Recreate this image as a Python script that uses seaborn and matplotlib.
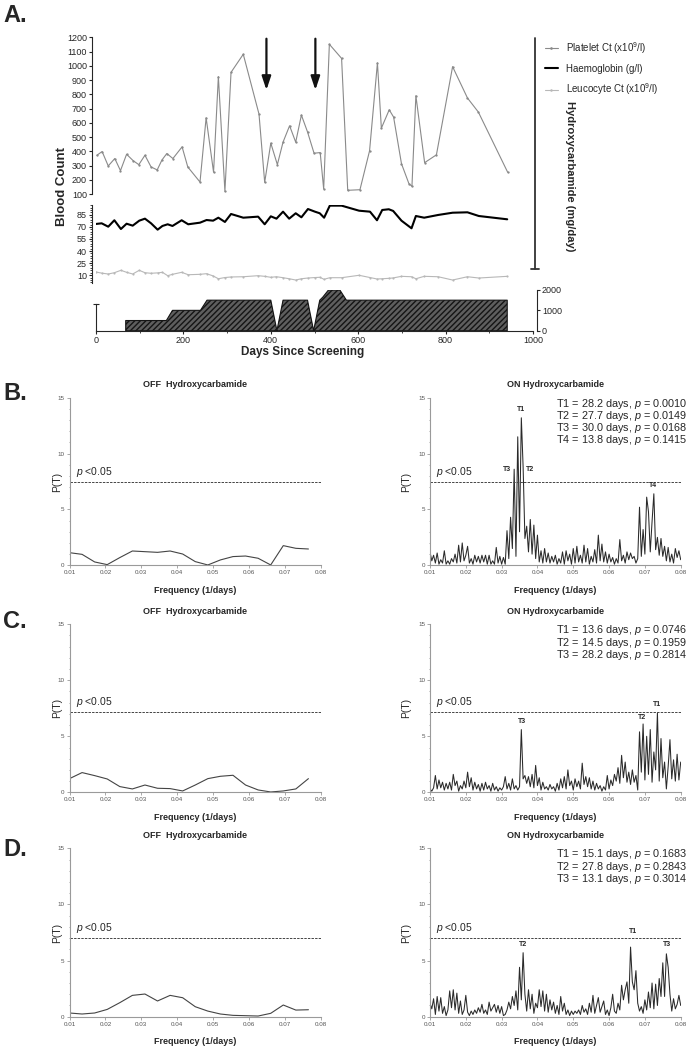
import numpy as np
import matplotlib
matplotlib.use("Agg")
import matplotlib.pyplot as plt
import matplotlib.ticker as mticker
from matplotlib.lines import Line2D
import seaborn as sns

# ---------------- panel A data ----------------
pl_days = [2, 14, 28, 43, 56, 70, 85, 98, 112, 126, 140, 151, 162, 176, 197, 210, 238, 252,
           269, 280, 295, 309, 337, 373, 386, 400, 415, 428, 443, 457, 470, 484, 499, 513,
           521, 534, 562, 576, 604, 626, 644, 653, 671, 681, 699, 716, 723, 732, 752, 779,
           816, 850, 875, 942]
pl_vals = [372, 398, 297, 349, 264, 379, 334, 306, 372, 290, 269, 339, 384, 349, 431, 290,
           184, 635, 253, 924, 119, 954, 1081, 661, 182, 457, 306, 464, 579, 464, 654, 536,
           386, 391, 135, 1151, 1052, 126, 130, 403, 1020, 562, 691, 640, 313, 173, 154,
           790, 320, 375, 994, 774, 675, 253]

hb_days = [0, 13, 28, 42, 57, 70, 84, 99, 112, 126, 141, 152, 164, 175, 196, 211, 238, 253,
           268, 280, 295, 309, 337, 371, 386, 400, 413, 428, 442, 457, 470, 485, 501, 512,
           522, 535, 562, 602, 627, 643, 655, 670, 680, 699, 722, 732, 751, 783, 816, 850,
           876, 941]
hb_vals = [73.7, 74.5, 70.3, 78.3, 67.4, 74.0, 71.6, 77.8, 80.3, 74.5, 66.6, 71.2, 73.3,
           71.2, 78.3, 73.3, 75.3, 78.6, 77.8, 81.5, 76.2, 86.1, 81.5, 82.8, 73.3, 83.2,
           80.3, 89.0, 80.3, 87.0, 82.0, 92.3, 89.0, 87.0, 81.5, 96.5, 96.5, 90.2, 89.0,
           78.3, 91.1, 92.0, 89.9, 77.8, 68.3, 83.6, 81.5, 84.9, 87.7, 88.2, 83.6, 79.5]
leu_vals = [13.9, 12.5, 11.4, 13.0, 16.0, 13.5, 11.4, 16.0, 13.0, 12.3, 12.8, 13.5, 9.3,
            11.0, 13.5, 10.5, 11.0, 11.8, 9.0, 5.5, 7.0, 7.7, 8.0, 9.3, 8.5, 7.3, 8.0, 6.8,
            5.5, 3.9, 5.5, 6.4, 7.0, 7.3, 4.8, 6.8, 6.8, 9.8, 7.0, 5.2, 5.5, 6.0, 6.5, 8.5,
            8.0, 5.5, 8.5, 8.0, 3.9, 8.0, 6.4, 8.5]

dose_days = [68, 68, 161, 175, 239, 254, 400, 414, 428, 484, 498, 512, 519, 532, 558, 573, 941, 941]
dose_mg = [0, 500, 500, 1000, 1000, 1500, 1500, 0, 1500, 1500, 0, 1500, 1650, 2000, 2000, 1500, 1500, 0]

arrow_days = [390, 502]

# ---------------- periodogram data ----------------
off_freq = [0.01 + 0.0035 * k for k in range(20)]
on_freq = np.round(np.arange(0.01, 0.08001, 0.0005), 4)

off_B = [1.13, 0.98, 0.30, 0.06, 0.69, 1.28, 1.22, 1.16, 1.28, 1.01, 0.33, 0.03, 0.48, 0.78,
         0.83, 0.63, 0.03, 1.76, 1.52, 1.46]
off_C = [1.22, 1.76, 1.49, 1.19, 0.51, 0.30, 0.65, 0.36, 0.33, 0.12, 0.65, 1.22, 1.43, 1.52,
         0.65, 0.21, 0.03, 0.12, 0.30, 1.22]
off_D = [0.33, 0.24, 0.33, 0.65, 1.25, 1.90, 2.02, 1.40, 1.90, 1.69, 0.89, 0.50, 0.24, 0.12,
         0.09, 0.06, 0.30, 1.04, 0.59, 0.62]

on_B = [1.2, 0.4, 0.9, 0.2, 1.1, 0.1, 0.5, 0.2, 1.3, 0.1,
        0.4, 0.1, 0.6, 0.3, 1.0, 0.2, 1.8, 0.3, 2.0, 0.4,
        0.9, 1.7, 0.2, 0.6, 0.1, 0.9, 0.3, 0.8, 0.2, 0.9,
        0.3, 0.9, 0.1, 0.9, 0.1, 0.4, 0.1, 1.6, 0.2, 0.8,
        0.1, 0.7, 0.1, 3.1, 0.6, 4.3, 1.5, 8.6, 0.8, 11.5,
        3.0, 13.2, 8.8, 2.4, 3.5, 1.2, 4.1, 1.0, 3.6, 0.6,
        2.7, 0.3, 1.3, 0.2, 1.5, 0.3, 1.1, 0.2, 0.8, 0.3,
        0.9, 0.1, 0.6, 0.2, 1.2, 0.1, 1.3, 0.4, 1.0, 0.1,
        1.5, 0.2, 1.7, 0.3, 0.9, 0.2, 1.8, 0.3, 1.5, 0.1,
        0.8, 0.3, 1.4, 0.2, 2.7, 0.4, 1.9, 0.3, 1.2, 0.2,
        1.0, 0.3, 0.7, 0.1, 0.6, 0.2, 2.3, 0.4, 0.9, 0.2,
        1.2, 0.5, 1.1, 0.6, 0.8, 0.2, 0.6, 5.2, 0.8, 3.2,
        1.0, 6.1, 4.8, 1.2, 3.9, 6.4, 1.4, 2.5, 0.9, 2.4,
        0.8, 1.7, 0.4, 1.6, 0.3, 1.0, 0.2, 1.5, 0.7, 1.3,
        0.5]
on_C = [0.3, 0.1, 0.4, 1.5, 0.3, 1.1, 0.4, 0.9, 0.2, 0.8,
        0.3, 0.9, 0.2, 1.6, 0.6, 1.0, 0.1, 0.6, 0.3, 1.0,
        0.4, 1.8, 0.5, 1.3, 0.2, 0.9, 0.3, 0.7, 0.1, 0.8,
        0.2, 0.9, 0.3, 0.6, 0.1, 0.8, 0.2, 0.5, 0.1, 0.4,
        0.2, 0.5, 1.4, 0.3, 0.8, 0.2, 1.2, 0.3, 0.6, 0.2,
        0.5, 5.6, 1.2, 1.5, 0.8, 1.4, 0.5, 1.6, 0.4, 2.4,
        0.6, 1.3, 0.2, 0.9, 0.3, 0.5, 0.2, 0.7, 0.3, 0.5,
        0.1, 0.8, 0.2, 1.2, 0.4, 1.4, 0.3, 2.0, 0.6, 1.0,
        0.2, 1.2, 0.5, 1.0, 0.3, 2.6, 0.7, 1.4, 0.5, 1.3,
        0.3, 1.0, 0.2, 0.8, 0.3, 0.6, 0.1, 0.5, 0.2, 1.5,
        0.3, 1.1, 0.6, 1.6, 1.0, 2.2, 0.8, 3.3, 1.3, 2.7,
        0.9, 1.8, 0.7, 2.0, 0.9, 1.5, 0.2, 5.4, 1.8, 6.1,
        1.1, 5.0, 1.6, 5.6, 0.9, 3.6, 2.0, 7.1, 1.0, 4.8,
        1.3, 2.7, 0.3, 2.3, 4.7, 1.2, 2.9, 1.0, 3.4, 1.1,
        2.7]
on_D = [1.2, 0.7, 1.6, 0.2, 1.8, 0.5, 1.7, 0.3, 0.9, 0.1,
        0.6, 2.3, 0.8, 2.4, 0.6, 2.1, 0.3, 1.4, 0.2, 0.6,
        1.9, 0.4, 0.1, 0.5, 0.2, 0.6, 0.3, 0.8, 0.4, 1.1,
        0.3, 0.6, 0.2, 1.3, 0.5, 0.8, 1.1, 0.4, 1.0, 0.3,
        0.9, 0.1, 0.2, 0.6, 1.3, 0.7, 1.8, 1.0, 2.3, 0.6,
        4.4, 1.5, 5.7, 2.0, 0.5, 2.4, 0.7, 2.0, 0.3, 1.2,
        0.8, 2.4, 0.9, 2.3, 0.5, 2.0, 0.4, 1.5, 0.6, 1.3,
        0.3, 1.0, 0.2, 1.8, 0.5, 1.2, 0.2, 0.6, 0.1, 0.5,
        0.2, 0.5, 0.3, 0.6, 0.2, 1.0, 0.4, 0.7, 0.2, 1.2,
        0.4, 1.9, 0.3, 1.0, 1.7, 0.4, 0.9, 1.4, 0.2, 0.6,
        0.1, 0.8, 2.0, 0.5, 0.3, 1.2, 0.6, 2.8, 1.5, 2.4,
        3.1, 1.2, 6.2, 3.1, 2.4, 4.1, 1.2, 0.5, 0.9, 0.3,
        1.5, 0.6, 2.2, 0.8, 3.0, 0.7, 2.9, 1.0, 3.4, 1.8,
        4.8, 1.8, 5.6, 4.4, 2.0, 0.5, 1.6, 0.7, 1.1, 1.9,
        1.0]

thresholds = [7.5, 7.2, 7.0]

notes_B = ["T1 = 28.2 days, $p$ = 0.0010", "T2 = 27.7 days, $p$ = 0.0149",
           "T3 = 30.0 days, $p$ = 0.0168", "T4 = 13.8 days, $p$ = 0.1415"]
notes_C = ["T1 = 13.6 days, $p$ = 0.0746", "T2 = 14.5 days, $p$ = 0.1959",
           "T3 = 28.2 days, $p$ = 0.2814"]
notes_D = ["T1 = 15.1 days, $p$ = 0.1683", "T2 = 27.8 days, $p$ = 0.2843",
           "T3 = 13.1 days, $p$ = 0.3014"]

peaks_B = [("T3", 0.0316, 8.6), ("T1", 0.0353, 13.9), ("T2", 0.0378, 8.6), ("T4", 0.0723, 7.1)]
peaks_C = [("T3", 0.0356, 6.3), ("T2", 0.0693, 6.7), ("T1", 0.0733, 7.8)]
peaks_D = [("T2", 0.0360, 6.4), ("T1", 0.0666, 7.6), ("T3", 0.0762, 6.4)]

# ---------------- style ----------------
sns.set_style("ticks")
plt.rcParams["font.family"] = ["Liberation Sans", "DejaVu Sans"]
plt.rcParams["mathtext.fontset"] = "custom"
plt.rcParams["mathtext.rm"] = "Liberation Sans"
plt.rcParams["mathtext.it"] = "Liberation Sans:italic"
plt.rcParams["hatch.linewidth"] = 1.0

W, H = 688, 1050
fig = plt.figure(figsize=(W / 100, H / 100), dpi=100)


def px_axes(x0, y0, x1, y1):
    # pixel box (left, top, right, bottom) -> axes
    return fig.add_axes([x0 / W, 1 - y1 / H, (x1 - x0) / W, (y1 - y0) / H])


PL_C = "#8a8a8a"
LEU_C = "#b8b8b8"

# ---------- A: platelets ----------
ax_pl = px_axes(96, 37.3, 533, 194)
sns.lineplot(x=pl_days, y=pl_vals, ax=ax_pl, color=PL_C, lw=0.8, marker="o", ms=0.9,
             mec=PL_C, estimator=None)
ax_pl.set_xlim(0, 1000)
ax_pl.set_ylim(100, 1200)
ax_pl.set_yticks(range(100, 1201, 100))
ax_pl.set_xticks([])
for s in ["top", "right", "bottom"]:
    ax_pl.spines[s].set_visible(False)
ax_pl.spines["left"].set_position(("outward", 3))
ax_pl.tick_params(axis="y", labelsize=6.5, length=2.5, width=0.8, pad=1)
ax_pl.set_xlabel("")
ax_pl.set_ylabel("")
for d in arrow_days:
    ax_pl.annotate("", xy=(d, 830), xytext=(d, 1190),
                   arrowprops=dict(arrowstyle="-|>,head_length=0.9,head_width=0.3",
                                   color="#111111", lw=1.6, mutation_scale=9,
                                   shrinkA=0, shrinkB=0))

# ---------- A: haemoglobin / leucocytes ----------
ax_hb = px_axes(96, 205, 533, 283)
sns.lineplot(x=hb_days, y=hb_vals, ax=ax_hb, color="black", lw=1.5, estimator=None)
sns.lineplot(x=hb_days, y=leu_vals, ax=ax_hb, color=LEU_C, lw=0.8, marker="o", ms=0.8,
             mec=LEU_C, estimator=None)
ax_hb.set_xlim(0, 1000)
ax_hb.set_ylim(0.2, 97.3)
ax_hb.set_yticks([10, 25, 40, 55, 70, 85])
ax_hb.yaxis.set_minor_locator(mticker.FixedLocator(np.arange(1, 98, 3)))
ax_hb.set_xticks([])
for s in ["top", "right", "bottom"]:
    ax_hb.spines[s].set_visible(False)
ax_hb.spines["left"].set_position(("outward", 3))
ax_hb.tick_params(axis="y", which="major", labelsize=6.5, length=2.5, width=0.8, pad=1)
ax_hb.tick_params(axis="y", which="minor", length=1.5, width=0.6)
ax_hb.set_xlabel("")
ax_hb.set_ylabel("")

# ---------- A: dose ----------
ax_d = px_axes(96, 290, 533, 330.7)
ax_d.fill_between(dose_days, dose_mg, 0, facecolor="#5e5e5e", edgecolor="#151515",
                  hatch="//////", lw=0.8)
ax_d.set_xlim(0, 1000)
ax_d.set_ylim(0, 2000)
ax_d.set_xticks(range(0, 1001, 200))
ax_d.xaxis.set_minor_locator(mticker.MultipleLocator(100))
ax_d.set_yticks([1300])
ax_d.set_yticklabels([])
ax_d.spines["left"].set_bounds(0, 1300)
ax_d.spines["top"].set_visible(False)
ax_d.spines["right"].set_visible(False)
ax_d.tick_params(axis="y", direction="inout", length=5, width=0.8)
ax_d.tick_params(axis="x", which="major", labelsize=6.5, length=2.5, width=0.8, pad=1.5)
ax_d.tick_params(axis="x", which="minor", length=1.5, width=0.6)
ax_r = ax_d.twinx()
ax_r.set_ylim(0, 2000)
ax_r.set_yticks([0, 1000, 2000])
for s in ["top", "left", "bottom"]:
    ax_r.spines[s].set_visible(False)
ax_r.spines["right"].set_position(("outward", 3))
ax_r.tick_params(axis="y", labelsize=6.5, length=2.5, width=0.8, pad=1)

fig.text(303 / W, 1 - 352.5 / H, "Days Since Screening", ha="center", va="center",
         fontsize=8.5, fontweight="bold")
fig.text(62 / W, 1 - 186 / H, "Blood Count", rotation=90, ha="center", va="center",
         fontsize=9.5, fontweight="bold")
fig.text(570 / W, 1 - 176 / H, "Hydroxycarbamide (mg/day)", rotation=270, ha="center",
         va="center", fontsize=8, fontweight="bold")
fig.add_artist(Line2D([535 / W, 535 / W], [1 - 37.7 / H, 1 - 269 / H], color="#333333", lw=1.3))
fig.add_artist(Line2D([531 / W, 539 / W], [1 - 269 / H, 1 - 269 / H], color="#333333", lw=1.3))

handles = [Line2D([], [], color=PL_C, lw=0.8, marker="o", ms=0.9, mec=PL_C),
           Line2D([], [], color="black", lw=1.5),
           Line2D([], [], color=LEU_C, lw=0.8, marker="o", ms=0.8, mec=LEU_C)]
labels = [r"Platelet Ct (x10$^{9}$/l)", "Haemoglobin (g/l)", r"Leucocyte Ct (x10$^{9}$/l)"]
fig.legend(handles, labels, loc="upper left", bbox_to_anchor=(545 / W, 1 - 40 / H),
           frameon=False, fontsize=7, handlelength=1.3, handletextpad=0.9,
           labelspacing=0.8, borderpad=0, borderaxespad=0)

# ---------- B-D: periodograms ----------
SP_C = "#9a9a9a"


def period_panel(box, freq, vals, thr, title, ylab_dx, on=False, notes=None, peaks=None):
    ax = px_axes(*box)
    hpx = box[3] - box[1]
    sns.lineplot(x=freq, y=vals, ax=ax, color="#2a2a2a" if on else "#444444",
                 lw=0.75 if on else 0.8, estimator=None)
    ax.set_xlim(0.01, 0.08)
    ax.set_ylim(0, 15)
    ax.set_xticks(np.round(np.arange(0.01, 0.0801, 0.01), 2))
    ax.xaxis.set_major_formatter(mticker.FormatStrFormatter("%.2f"))
    ax.set_yticks([0, 5, 10, 15])
    ax.yaxis.set_minor_locator(mticker.MultipleLocator(1))
    for s in ["top", "right"]:
        ax.spines[s].set_visible(False)
    for s in ["left", "bottom"]:
        ax.spines[s].set_color(SP_C)
        ax.spines[s].set_linewidth(0.8)
    ax.tick_params(which="both", colors=SP_C, labelcolor="#555555", labelsize=4.5,
                   length=2, width=0.6, pad=1.5)
    ax.tick_params(which="minor", length=1)
    ax.set_xlabel("")
    ax.set_ylabel("")
    ax.axhline(thr, color="#444444", lw=0.7, ls=(0, (2.5, 1.2)))
    ax.text(0.0117, thr + 0.25, r"$p$ <0.05", fontsize=7.5, ha="left", va="bottom")
    ax.text(0.5, 1 + 12.7 / hpx, title, transform=ax.transAxes, ha="center", va="center",
            fontsize=6.5, fontweight="bold")
    ax.text(0.5, -25 / hpx, "Frequency (1/days)", transform=ax.transAxes, ha="center",
            va="center", fontsize=6.5, fontweight="bold")
    ax.text(ylab_dx / (box[2] - box[0]), 0.5, "P(T)", transform=ax.transAxes, rotation=90,
            ha="center", va="center", fontsize=7.5)
    if notes:
        ax.text(1.027, 1.005, "\n".join(notes), transform=ax.transAxes, ha="right",
                va="top", multialignment="right", fontsize=7.8, linespacing=0.82)
    if peaks:
        for lab, fx, fy in peaks:
            ax.text(fx, fy, lab, ha="center", va="center", fontsize=5, fontweight="bold")
    return ax


rows = [(397.7, 565.3, off_B, on_B, thresholds[0], notes_B, peaks_B),
        (624.3, 792.3, off_C, on_C, thresholds[1], notes_C, peaks_C),
        (848.3, 1016.7, off_D, on_D, thresholds[2], notes_D, peaks_D)]
for top, bot, offv, onv, thr, notes, peaks in rows:
    period_panel((69.5, top, 321, bot), off_freq, offv, thr, "OFF  Hydroxycarbamide", -12.8)
    period_panel((430, top, 680.7, bot), on_freq, onv, thr, "ON Hydroxycarbamide", -24.3,
                 on=True, notes=notes, peaks=peaks)

for lab, yc in [("A.", 15), ("B.", 394), ("C.", 621), ("D.", 850)]:
    fig.text(3 / W, 1 - yc / H, lab, ha="left", va="center", fontsize=17, fontweight="bold")

fig.savefig("out.png", dpi=100)
